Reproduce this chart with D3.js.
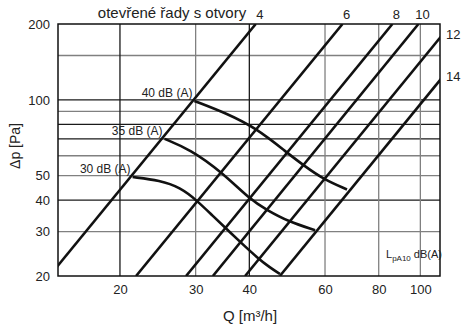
<!DOCTYPE html>
<html>
<head>
<meta charset="utf-8">
<script src="https://cdn.jsdelivr.net/npm/d3@7"></script>
<style>
body { margin: 0; background: #fff; }
text { font-family: "Liberation Sans", Arial, sans-serif; fill: #222; }
</style>
</head>
<body>
<script>
// osy
var xTicks = [20, 30, 40, 60, 80, 100];
var yTicks = [20, 30, 40, 50, 100, 200];
var yGrid = [30, 40, 50, 60, 70, 80, 90, 100, 150];
var yGridDark = [40, 70, 80, 100];
var xGridDark = [20, 40];

// charakteristiky: Q pri dp = 20 Pa a pri dp = 200 Pa
var lineNames = ["4", "6", "8", "10", "12", "14"];
var lineQ20 = [13.7, 21.8, 28.5, 32.9, 39.1, 47.1];
var lineQ200 = [41.4, 65.9, 86.1, 99.0, 118.0, 142.1];

// krivky hluku [Q, dp]
var curveNames = ["40 dB (A)", "35 dB (A)", "30 dB (A)"];
var curve40 = [[29.8, 99], [35.4, 88.4], [41.6, 77], [48.9, 61.8], [53.4, 55.1], [59.5, 48.4], [67.5, 44.1]];
var curve35 = [[25.4, 70], [29.1, 63.6], [34.5, 51.7], [40.1, 40.3], [43.9, 36.6], [49.3, 32.9], [56.9, 30.4]];
var curve30 = [[21.4, 49.4], [24.8, 47.9], [27.6, 44.9], [30.2, 39.9], [32.9, 34.6], [35.5, 30.6], [38.1, 27.3], [41.9, 23.5], [44.7, 21.6], [47.1, 20.4]];
var curves = [curve40, curve35, curve30];

var width = 468, height = 327;
var margin = {left: 58, right: 28, top: 24, bottom: 51};
var x = d3.scaleLog().domain([14.35, 111.1]).range([margin.left, width - margin.right]);
var y = d3.scaleLog().domain([20, 200]).range([height - margin.bottom, margin.top]);

var svg = d3.select("body").append("svg")
    .attr("width", width)
    .attr("height", height);

svg.append("clipPath").attr("id", "plot")
    .append("rect")
    .attr("x", margin.left).attr("y", margin.top)
    .attr("width", width - margin.left - margin.right)
    .attr("height", height - margin.top - margin.bottom);

// mrizka
svg.selectAll(".hgrid")
    .data(yGrid)
    .enter()
    .append("line")
    .attr("x1", margin.left).attr("x2", width - margin.right)
    .attr("y1", function(d){ return y(d); })
    .attr("y2", function(d){ return y(d); })
    .style("stroke", function(d){ return yGridDark.indexOf(d) >= 0 ? "#1a1a1a" : "#808080"; })
    .style("stroke-width", 1.3);

svg.selectAll(".vgrid")
    .data(xTicks)
    .enter()
    .append("line")
    .attr("y1", margin.top).attr("y2", height - margin.bottom)
    .attr("x1", function(d){ return x(d); })
    .attr("x2", function(d){ return x(d); })
    .style("stroke", function(d){ return xGridDark.indexOf(d) >= 0 ? "#1a1a1a" : "#808080"; })
    .style("stroke-width", 1.3);

// ramecek
svg.append("rect")
    .attr("x", margin.left).attr("y", margin.top)
    .attr("width", width - margin.left - margin.right)
    .attr("height", height - margin.top - margin.bottom)
    .style("fill", "none")
    .style("stroke", "#111")
    .style("stroke-width", 1.5);

// osy
var xAxis = svg.append("g")
    .attr("transform", "translate(0," + (height - margin.bottom) + ")")
    .call(d3.axisBottom(x).tickValues(xTicks).tickSize(0).tickPadding(9).tickFormat(d3.format("d")));
var yAxis = svg.append("g")
    .attr("transform", "translate(" + margin.left + ",0)")
    .call(d3.axisLeft(y).tickValues(yTicks).tickSize(0).tickPadding(8).tickFormat(d3.format("d")));
[xAxis, yAxis].forEach(function(a){
    a.select(".domain").remove();
    a.selectAll("text").style("font-size", "13px").style("fill", "#222")
        .style("font-family", "'Liberation Sans', Arial, sans-serif");
});

// primky
var diag = svg.append("g").attr("clip-path", "url(#plot)");
diag.selectAll("line")
    .data(lineNames)
    .enter()
    .append("line")
    .attr("x1", function(d, i){ return x(lineQ20[i]); })
    .attr("y1", y(20))
    .attr("x2", function(d, i){ return x(lineQ200[i]); })
    .attr("y2", y(200))
    .style("stroke", "#111")
    .style("stroke-width", 2.6);

var line = d3.line()
    .x(function(d){ return x(d[0]); })
    .y(function(d){ return y(d[1]); })
    .curve(d3.curveBasis);
diag.selectAll("path")
    .data(curves)
    .enter()
    .append("path")
    .attr("d", line)
    .style("fill", "none")
    .style("stroke", "#111")
    .style("stroke-width", 2.6);

// popisky krivek
svg.selectAll(".clabel")
    .data(curveNames)
    .enter()
    .append("text")
    .attr("x", function(d, i){ return x(curves[i][0][0]) - 2; })
    .attr("y", function(d, i){ return y(curves[i][0][1]) - 4; })
    .attr("text-anchor", "end")
    .style("font-size", "12px")
    .text(function(d){ return d; });

// popisky primek
svg.selectAll(".llabel")
    .data(lineNames)
    .enter()
    .append("text")
    .each(function(d, i){
        var sel = d3.select(this);
        var xt = x(lineQ200[i]);
        if (xt < width - margin.right) {
            sel.attr("x", xt + 4).attr("y", margin.top - 5).attr("text-anchor", "middle");
        } else {
            // bod na pravem okraji
            var k = Math.log(200 / 20) / Math.log(lineQ200[i] / lineQ20[i]);
            var dp = 20 * Math.pow(x.domain()[1] / lineQ20[i], k);
            sel.attr("x", width - margin.right + 6).attr("y", y(dp) + 1).attr("text-anchor", "start");
        }
    })
    .style("font-size", "13px")
    .text(function(d){ return d; });

// titulky
svg.append("text")
    .attr("x", 172).attr("y", 18)
    .attr("text-anchor", "middle")
    .style("font-size", "15px")
    .text("otevřené řady s otvory");

svg.append("text")
    .attr("x", 250).attr("y", 321)
    .attr("text-anchor", "middle")
    .style("font-size", "15px")
    .text("Q [m³/h]");

svg.append("text")
    .attr("transform", "translate(20,146) rotate(-90)")
    .attr("text-anchor", "middle")
    .style("font-size", "14px")
    .text("Δp [Pa]");

var lp = svg.append("text")
    .attr("x", 386).attr("y", 258)
    .style("font-size", "11px");
lp.append("tspan").text("L");
lp.append("tspan").attr("dy", 3).style("font-size", "8px").text("pA10");
lp.append("tspan").attr("dy", -3).text(" dB(A)");
</script>
</body>
</html>
